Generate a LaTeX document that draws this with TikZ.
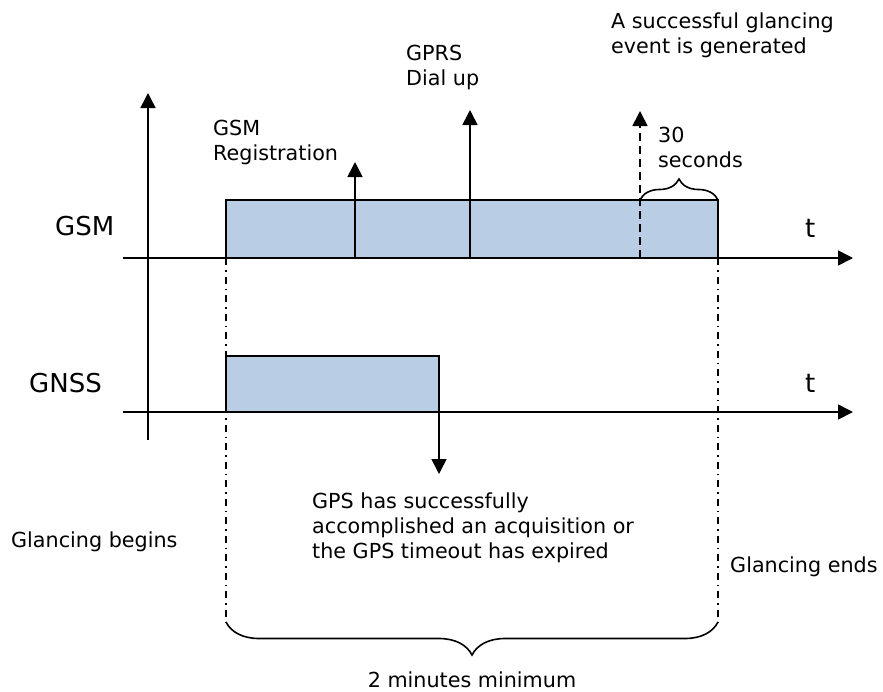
\documentclass[tikz,border=0pt]{standalone}
\usepackage{fontspec}
\setmainfont{DejaVu Sans}
\usetikzlibrary{arrows.meta,decorations.pathreplacing}
\definecolor{stageblue}{HTML}{B9CDE5}
\tikzset{
  axis/.style={line width=1.6pt,-{Triangle[width=15pt,length=15pt]}},
  stage/.style={draw,line width=1.6pt,fill=stageblue,inner sep=0pt,outer sep=0pt,anchor=south west},
  limit/.style={line width=1.4pt,dash pattern=on 7pt off 5pt on 1.5pt off 5pt},
  lbl/.style={inner sep=0pt,font=\fontsize{20.7}{25.3}\selectfont,align=left},
  big/.style={inner sep=0pt,font=\fontsize{26}{30}\selectfont,anchor=base west},
  span/.style={decorate,decoration={brace,amplitude=#1},line width=1.6pt},
}
\begin{document}
\begin{tikzpicture}[x=1pt,y=-1pt]
\useasboundingbox (0,0) rectangle (883,691);
\coordinate (begin) at (226,258); \coordinate (beginlow) at (226,622);
\coordinate (end) at (718,258); \coordinate (endlow) at (718,622);
\draw[limit] (begin) -- (beginlow);
\draw[limit] (end) -- (endlow);
\coordinate (gsmstart) at (123,258); \coordinate (gsmt) at (853,258);
\coordinate (gnssstart) at (123,412); \coordinate (gnsst) at (853,412);
\coordinate (origin) at (148,440); \coordinate (up) at (148,93);
\draw[axis] (gsmstart) -- (gsmt);
\draw[axis] (gnssstart) -- (gnsst);
\draw[axis] (origin) -- (up);
\node[stage,minimum width=492pt,minimum height=58pt] (gsmbox) at (226,258) {};
\node[stage,minimum width=213pt,minimum height=56pt] (gnssbox) at (226,412) {};
\coordinate (reg) at (355,258); \coordinate (regtip) at (355,162);
\coordinate (dial) at (470,258); \coordinate (dialtip) at (470,110);
\coordinate (event) at (640,258); \coordinate (eventtip) at (640,111);
\coordinate (fix) at (439,412); \coordinate (fixtip) at (439,474);
\draw[axis] (reg) -- (regtip);
\draw[axis] (dial) -- (dialtip);
\draw[axis,dash pattern=on 8pt off 5pt] (event) -- (eventtip);
\draw[axis] (fix) -- (fixtip);
\draw[span=21pt] (640,200) -- (gsmbox.north east);
\draw[span=33pt] (endlow) -- (beginlow);
\node[big] (gsmlbl) at (55,235) {GSM};
\node[big] (gnsslbl) at (29,392) {GNSS};
\node[big] (tgsm) at (805,237) {t};
\node[big] (tgnss) at (805,392) {t};
\node[lbl,anchor=north west] (reglbl) at (213,119.9) {GSM\\Registration};
\node[lbl,anchor=north west] (diallbl) at (406,44.9) {GPRS\\Dial up};
\node[lbl,anchor=north west] (eventlbl) at (611,12.3) {A successful glancing\\event is generated};
\node[lbl,anchor=north west] (waitlbl) at (658,126.9) {30\\seconds};
\node[lbl,anchor=north west] (fixlbl) at (312,492.3) {GPS has successfully\\accomplished an acquisition or\\the GPS timeout has expired};
\node[lbl,anchor=base west] (beginlbl) at (11,547) {Glancing begins};
\node[lbl,anchor=base west] (endlbl) at (730,572) {Glancing ends};
\node[lbl,anchor=base] (minlbl) at (472,687) {2 minutes minimum};
\end{tikzpicture}
\end{document}
